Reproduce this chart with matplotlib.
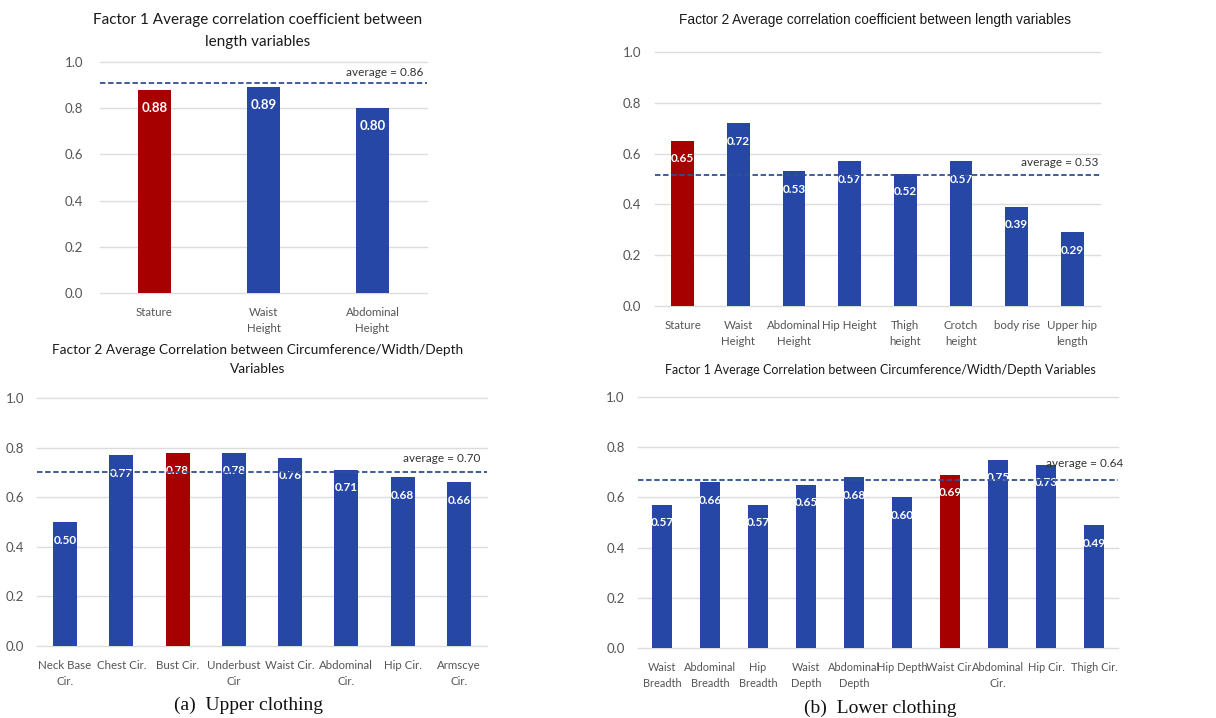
import matplotlib
matplotlib.use("Agg")
import matplotlib.pyplot as plt
import numpy as np

W, H = 1216, 718

# ---------------- data ----------------
p1_cats = ["Stature", "Waist\nHeight", "Abdominal\nHeight"]
p1_vals = [0.88, 0.89, 0.80]
p1_hi = 0
p1_avg_label = "average = 0.86"
p1_avg_line = 0.91

p2_cats = ["Stature", "Waist\nHeight", "Abdominal\nHeight", "Hip Height", "Thigh\nheight",
           "Crotch\nheight", "body rise", "Upper hip\nlength"]
p2_vals = [0.65, 0.72, 0.53, 0.57, 0.52, 0.57, 0.39, 0.29]
p2_hi = 0
p2_avg_label = "average = 0.53"
p2_avg_line = 0.515

p3_cats = ["Neck Base\nCir.", "Chest Cir.", "Bust Cir.", "Underbust\nCir", "Waist Cir.",
           "Abdominal\nCir.", "Hip Cir.", "Armscye\nCir."]
p3_vals = [0.50, 0.77, 0.78, 0.78, 0.76, 0.71, 0.68, 0.66]
p3_hi = 2
p3_avg_label = "average = 0.70"
p3_avg_line = 0.70

p4_cats = ["Waist\nBreadth", "Abdominal\nBreadth", "Hip\nBreadth", "Waist\nDepth", "Abdominal\nDepth",
           "Hip Depth", "Waist Cir.", "Abdominal\nCir.", "Hip Cir.", "Thigh Cir."]
p4_vals = [0.57, 0.66, 0.57, 0.65, 0.68, 0.60, 0.69, 0.75, 0.73, 0.49]
p4_hi = 6
p4_avg_label = "average = 0.64"
p4_avg_line = 0.668

titles = ["Factor 1 Average correlation coefficient between\nlength variables",
          "Factor 2 Average correlation coefficient between length variables",
          "Factor 2 Average Correlation between Circumference/Width/Depth\nVariables",
          "Factor 1 Average Correlation between Circumference/Width/Depth Variables"]
yticks = [0.0, 0.2, 0.4, 0.6, 0.8, 1.0]
captions = ["(a)  Upper clothing", "(b)  Lower clothing"]

BLUE = "#2647A6"
RED = "#A60000"
LINE = "#2F4F95"
GRID = "#DCDCDC"
TICK = "#555555"
FONT = ["Lato", "DejaVu Sans"]

fig = plt.figure(figsize=(W / 100, H / 100), dpi=100)
fig.patch.set_facecolor("white")


def rect(l, t, r, b):
    return [l / W, 1 - b / H, (r - l) / W, (b - t) / H]


def panel(box, cats, vals, hi, avg_line, title, title_y, title_x, bw, ypad,
          title_font=FONT, title_size=11, val_size=8.5, lab_off=13, xsize=8.3):
    ax = fig.add_axes(rect(*box))
    n = len(cats)
    x = np.arange(n)
    colors = [RED if i == hi else BLUE for i in range(n)]
    ax.bar(x, vals, width=bw, color=colors, zorder=3)
    ax.set_xlim(-0.5, n - 0.5)
    ax.set_ylim(0, 1.0)
    ax.set_yticks(yticks)
    ax.set_yticklabels([f"{v:.1f}" for v in yticks], fontsize=9.5, color=TICK, family=FONT)
    ax.set_xticks(x)
    ax.set_xticklabels(cats, fontsize=xsize, color=TICK, family=FONT, linespacing=1.55)
    for yv in yticks:
        ax.axhline(yv, color=GRID, lw=1.0, zorder=1, clip_on=False)
    for s in ax.spines.values():
        s.set_visible(False)
    ax.tick_params(length=0)
    ax.tick_params(axis="x", pad=10)
    ax.tick_params(axis="y", pad=ypad)
    for xi, v in zip(x, vals):
        ax.annotate(f"{v:.2f}", (xi, v), xytext=(0, -lab_off), textcoords="offset points",
                    ha="center", va="center", color="white", fontsize=val_size, fontweight="bold",
                    family=FONT, zorder=4)
    ax.axhline(avg_line, color=LINE, lw=1.3, ls=(0, (3, 1.5)), zorder=5, clip_on=False)
    fig.text(title_x / W, 1 - title_y / H, title, ha="center", va="top", fontsize=title_size,
             family=title_font, color="#1a1a1a", linespacing=1.7)
    return ax


ax1 = panel((100, 62, 427, 293), p1_cats, p1_vals, p1_hi, p1_avg_line,
            titles[0], 13, 258, 0.31, 12, title_size=11, val_size=9.5)
ax1.text(0.988, 0.955, p1_avg_label, transform=ax1.transAxes, ha="right", va="center",
         fontsize=8.5, family=FONT, color="#333333")

ax2 = panel((655, 52, 1100, 306), p2_cats, p2_vals, p2_hi, p2_avg_line,
            titles[1], 13, 875, 0.41, 10, title_font=["Liberation Sans", "DejaVu Sans"],
            title_size=9.8)
ax2.text(0.997, 0.566, p2_avg_label, transform=ax2.transAxes, ha="right", va="center",
         fontsize=8.5, family=FONT, color="#333333")

ax3 = panel((37, 398, 487, 646), p3_cats, p3_vals, p3_hi, p3_avg_line,
            titles[2], 344, 258, 0.43, 9, title_size=9.8)
ax3.text(0.986, 0.758, p3_avg_label, transform=ax3.transAxes, ha="right", va="center",
         fontsize=8.5, family=FONT, color="#333333")

ax4 = panel((638, 397, 1118, 648), p4_cats, p4_vals, p4_hi, p4_avg_line,
            titles[3], 364, 880, 0.42, 9.5, title_size=9.0, xsize=7.9)
ax4.text(1.01, 0.736, p4_avg_label, transform=ax4.transAxes, ha="right", va="center",
         fontsize=8.5, family=FONT, color="#333333", clip_on=False)

fig.text(248 / W, 1 - 705 / H, captions[0], ha="center", va="center", fontsize=14,
         family=["Liberation Serif", "DejaVu Serif"], color="#111111")
fig.text(880 / W, 1 - 708 / H, captions[1], ha="center", va="center", fontsize=14,
         family=["Liberation Serif", "DejaVu Serif"], color="#111111")

fig.savefig("out.png", dpi=100, facecolor="white")
